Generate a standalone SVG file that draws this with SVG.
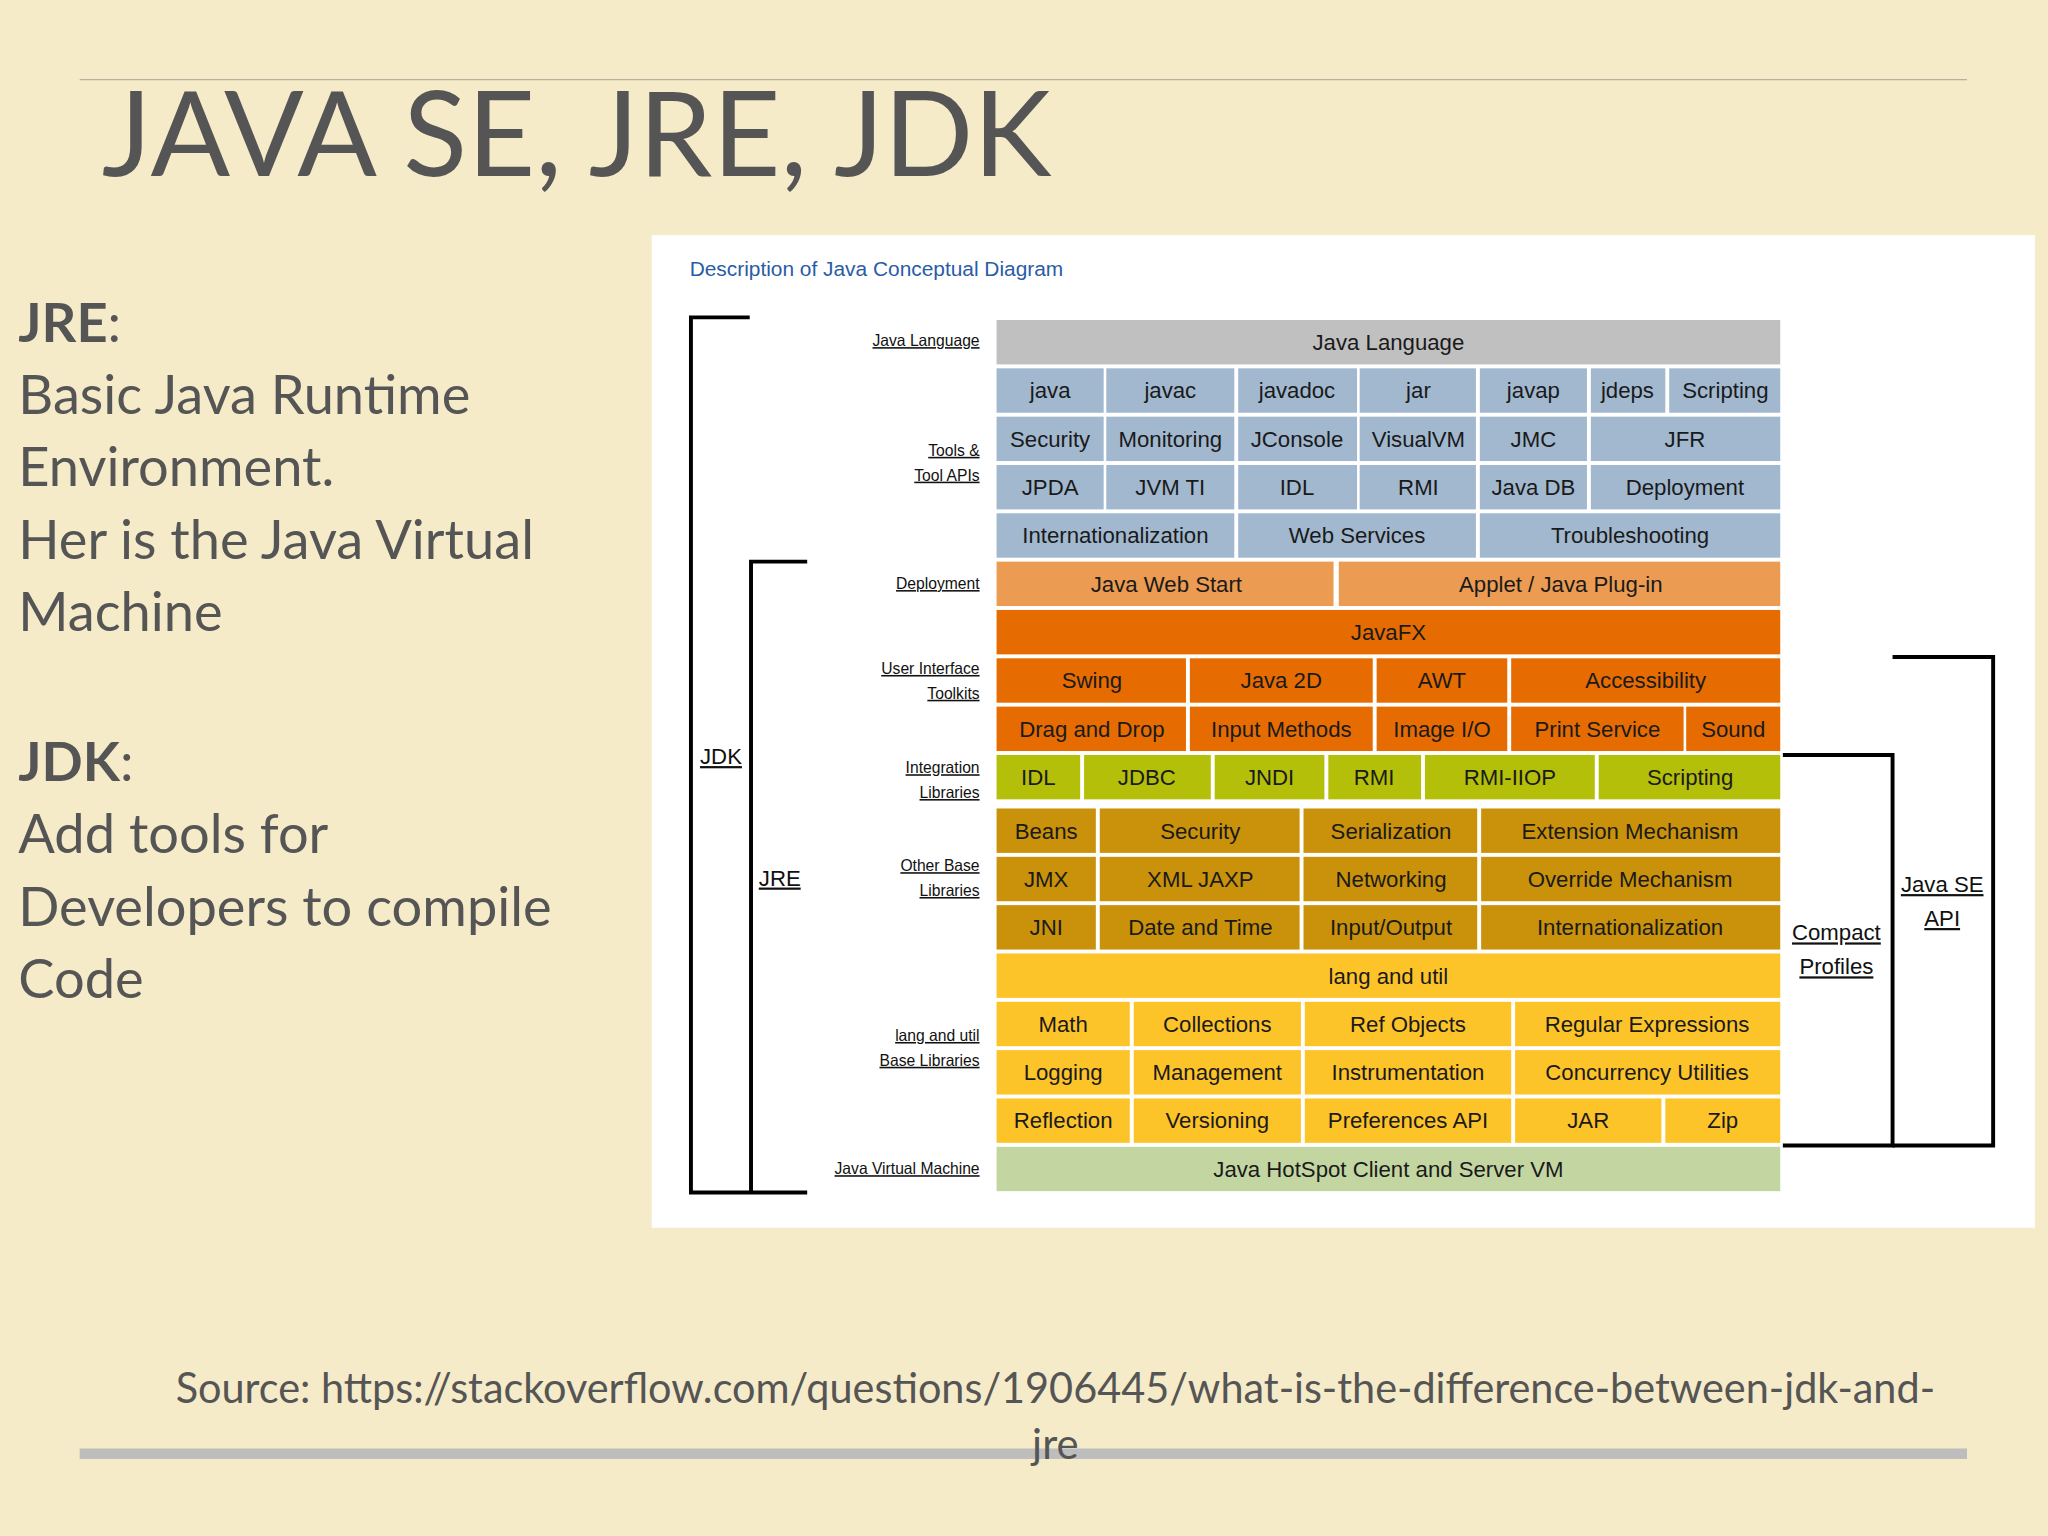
<svg xmlns="http://www.w3.org/2000/svg" width="2048" height="1536" viewBox="0 0 2048 1536">
<style>
.c{font-family:"Liberation Sans",Arial,sans-serif;font-size:17px;fill:#1a1a1a;text-anchor:middle}
.s{font-family:"Liberation Sans",Arial,sans-serif;font-size:12px;fill:#111;text-anchor:end;text-decoration:underline}
.b{font-family:"Liberation Sans",Arial,sans-serif;font-size:17px;fill:#111;text-decoration:underline;text-anchor:middle}
.l{font-family:Lato,"Open Sans",sans-serif;font-size:41.5px;fill:#555}
.br{fill:none;stroke:#000;stroke-width:3}
.g{fill:#c0c0c0}.t{fill:#a1b8cf}.d{fill:#eb9c52}.u{fill:#e66c02}.i{fill:#b4bf0a}.o{fill:#c9920a}.y{fill:#fdc42a}.v{fill:#c3d6a2}
</style>
<rect width="2048" height="1536" fill="#f5ebc9"/>
<g transform="scale(1.30612)">
<line x1="61" y1="61" x2="1506" y2="61" stroke="#b9b09a" stroke-width="1"/>
<text x="78" y="135" font-family="Lato,'Open Sans',sans-serif" font-size="90" fill="#555" textLength="727" lengthAdjust="spacingAndGlyphs">JAVA SE, JRE, JDK</text>
<g id="left-text" class="l">
<text x="14" y="262" class="l"><tspan font-weight="bold">JRE</tspan>:</text>
<text x="14" y="317" class="l">Basic Java Runtime</text>
<text x="14" y="372" class="l">Environment.</text>
<text x="14" y="428" class="l">Her is the Java Virtual</text>
<text x="14" y="483" class="l">Machine</text>
<text x="14" y="598" class="l"><tspan font-weight="bold">JDK</tspan>:</text>
<text x="14" y="653" class="l">Add tools for</text>
<text x="14" y="709" class="l">Developers to compile</text>
<text x="14" y="764" class="l">Code</text>
</g>
<rect x="61" y="1109" width="1445" height="8" fill="#bdbdbd"/>
<text x="808" y="1074" text-anchor="middle" font-family="Lato,'Open Sans',sans-serif" font-size="32" fill="#555" textLength="1347" lengthAdjust="spacingAndGlyphs">Source: https://stackoverflow.com/questions/1906445/what-is-the-difference-between-jdk-and-</text>
<text x="808" y="1117" text-anchor="middle" font-family="Lato,'Open Sans',sans-serif" font-size="32" fill="#555">jre</text>
<rect x="499" y="180" width="1059" height="760" fill="#fff"/>
<text x="528" y="211" font-family="'Liberation Sans',Arial,sans-serif" font-size="16" fill="#2a5ca6">Description of Java Conceptual Diagram</text>
<g id="side-labels">
<text x="750" y="265" class="s">Java Language</text>
<text x="750" y="349" class="s">Tools &amp;</text><text x="750" y="368" class="s">Tool APIs</text>
<text x="750" y="451" class="s">Deployment</text>
<text x="750" y="516" class="s">User Interface</text><text x="750" y="535" class="s">Toolkits</text>
<text x="750" y="592" class="s">Integration</text><text x="750" y="611" class="s">Libraries</text>
<text x="750" y="667" class="s">Other Base</text><text x="750" y="686" class="s">Libraries</text>
<text x="750" y="797" class="s">lang and util</text><text x="750" y="816" class="s">Base Libraries</text>
<text x="750" y="899" class="s">Java Virtual Machine</text>
</g>
<g id="connectors">
<path class="br" d="M574 243H529V913H618"/>
<path class="br" d="M618 430H575V913"/>
<path class="br" d="M1365 578H1449V877H1365"/>
<path class="br" d="M1449 503H1526V877H1449"/>
</g>
<g id="bracket-labels">
<text x="552" y="585" class="b">JDK</text>
<text x="597" y="678" class="b">JRE</text>
<text x="1406" y="720" class="b">Compact</text><text x="1406" y="746" class="b">Profiles</text>
<text x="1487" y="683" class="b">Java SE</text><text x="1487" y="709" class="b">API</text>
</g>
<g id="java-language"><rect class="g" x="763" y="245" width="600" height="34"/><text class="c" x="1063" y="268">Java Language</text></g>
<g id="tools">
<rect class="t" x="763" y="282" width="82" height="34"/><text class="c" x="804" y="305">java</text>
<rect class="t" x="847" y="282" width="98" height="34"/><text class="c" x="896" y="305">javac</text>
<rect class="t" x="948" y="282" width="91" height="34"/><text class="c" x="993" y="305">javadoc</text>
<rect class="t" x="1041" y="282" width="89" height="34"/><text class="c" x="1086" y="305">jar</text>
<rect class="t" x="1133" y="282" width="82" height="34"/><text class="c" x="1174" y="305">javap</text>
<rect class="t" x="1218" y="282" width="57" height="34"/><text class="c" x="1246" y="305">jdeps</text>
<rect class="t" x="1278" y="282" width="85" height="34"/><text class="c" x="1321" y="305">Scripting</text>
<rect class="t" x="763" y="319" width="82" height="34"/><text class="c" x="804" y="342">Security</text>
<rect class="t" x="847" y="319" width="98" height="34"/><text class="c" x="896" y="342">Monitoring</text>
<rect class="t" x="948" y="319" width="91" height="34"/><text class="c" x="993" y="342">JConsole</text>
<rect class="t" x="1041" y="319" width="89" height="34"/><text class="c" x="1086" y="342">VisualVM</text>
<rect class="t" x="1133" y="319" width="82" height="34"/><text class="c" x="1174" y="342">JMC</text>
<rect class="t" x="1218" y="319" width="145" height="34"/><text class="c" x="1290" y="342">JFR</text>
<rect class="t" x="763" y="356" width="82" height="34"/><text class="c" x="804" y="379">JPDA</text>
<rect class="t" x="847" y="356" width="98" height="34"/><text class="c" x="896" y="379">JVM TI</text>
<rect class="t" x="948" y="356" width="91" height="34"/><text class="c" x="993" y="379">IDL</text>
<rect class="t" x="1041" y="356" width="89" height="34"/><text class="c" x="1086" y="379">RMI</text>
<rect class="t" x="1133" y="356" width="82" height="34"/><text class="c" x="1174" y="379">Java DB</text>
<rect class="t" x="1218" y="356" width="145" height="34"/><text class="c" x="1290" y="379">Deployment</text>
<rect class="t" x="763" y="393" width="182" height="34"/><text class="c" x="854" y="416">Internationalization</text>
<rect class="t" x="948" y="393" width="182" height="34"/><text class="c" x="1039" y="416">Web Services</text>
<rect class="t" x="1133" y="393" width="230" height="34"/><text class="c" x="1248" y="416">Troubleshooting</text>
</g>
<g id="deployment">
<rect class="d" x="763" y="430" width="258" height="34"/><text class="c" x="893" y="453">Java Web Start</text>
<rect class="d" x="1025" y="430" width="338" height="34"/><text class="c" x="1195" y="453">Applet / Java Plug-in</text>
</g>
<g id="ui-toolkits">
<rect class="u" x="763" y="467" width="600" height="34"/><text class="c" x="1063" y="490">JavaFX</text>
<rect class="u" x="763" y="504" width="145" height="34"/><text class="c" x="836" y="527">Swing</text>
<rect class="u" x="911" y="504" width="140" height="34"/><text class="c" x="981" y="527">Java 2D</text>
<rect class="u" x="1054" y="504" width="100" height="34"/><text class="c" x="1104" y="527">AWT</text>
<rect class="u" x="1157" y="504" width="206" height="34"/><text class="c" x="1260" y="527">Accessibility</text>
<rect class="u" x="763" y="541" width="145" height="34"/><text class="c" x="836" y="564">Drag and Drop</text>
<rect class="u" x="911" y="541" width="140" height="34"/><text class="c" x="981" y="564">Input Methods</text>
<rect class="u" x="1054" y="541" width="100" height="34"/><text class="c" x="1104" y="564">Image I/O</text>
<rect class="u" x="1157" y="541" width="132" height="34"/><text class="c" x="1223" y="564">Print Service</text>
<rect class="u" x="1291" y="541" width="72" height="34"/><text class="c" x="1327" y="564">Sound</text>
</g>
<g id="integration">
<rect class="i" x="763" y="578" width="64" height="34"/><text class="c" x="795" y="601">IDL</text>
<rect class="i" x="830" y="578" width="97" height="34"/><text class="c" x="878" y="601">JDBC</text>
<rect class="i" x="930" y="578" width="84" height="34"/><text class="c" x="972" y="601">JNDI</text>
<rect class="i" x="1017" y="578" width="71" height="34"/><text class="c" x="1052" y="601">RMI</text>
<rect class="i" x="1091" y="578" width="130" height="34"/><text class="c" x="1156" y="601">RMI-IIOP</text>
<rect class="i" x="1224" y="578" width="139" height="34"/><text class="c" x="1294" y="601">Scripting</text>
</g>
<g id="other-base">
<rect class="o" x="763" y="619" width="76" height="34"/><text class="c" x="801" y="642">Beans</text>
<rect class="o" x="842" y="619" width="153" height="34"/><text class="c" x="919" y="642">Security</text>
<rect class="o" x="998" y="619" width="133" height="34"/><text class="c" x="1065" y="642">Serialization</text>
<rect class="o" x="1134" y="619" width="229" height="34"/><text class="c" x="1248" y="642">Extension Mechanism</text>
<rect class="o" x="763" y="656" width="76" height="34"/><text class="c" x="801" y="679">JMX</text>
<rect class="o" x="842" y="656" width="153" height="34"/><text class="c" x="919" y="679">XML JAXP</text>
<rect class="o" x="998" y="656" width="133" height="34"/><text class="c" x="1065" y="679">Networking</text>
<rect class="o" x="1134" y="656" width="229" height="34"/><text class="c" x="1248" y="679">Override Mechanism</text>
<rect class="o" x="763" y="693" width="76" height="34"/><text class="c" x="801" y="716">JNI</text>
<rect class="o" x="842" y="693" width="153" height="34"/><text class="c" x="919" y="716">Date and Time</text>
<rect class="o" x="998" y="693" width="133" height="34"/><text class="c" x="1065" y="716">Input/Output</text>
<rect class="o" x="1134" y="693" width="229" height="34"/><text class="c" x="1248" y="716">Internationalization</text>
</g>
<g id="lang-util">
<rect class="y" x="763" y="730" width="600" height="34"/><text class="c" x="1063" y="753">lang and util</text>
<rect class="y" x="763" y="767" width="102" height="34"/><text class="c" x="814" y="790">Math</text>
<rect class="y" x="868" y="767" width="128" height="34"/><text class="c" x="932" y="790">Collections</text>
<rect class="y" x="999" y="767" width="158" height="34"/><text class="c" x="1078" y="790">Ref Objects</text>
<rect class="y" x="1160" y="767" width="203" height="34"/><text class="c" x="1261" y="790">Regular Expressions</text>
<rect class="y" x="763" y="804" width="102" height="34"/><text class="c" x="814" y="827">Logging</text>
<rect class="y" x="868" y="804" width="128" height="34"/><text class="c" x="932" y="827">Management</text>
<rect class="y" x="999" y="804" width="158" height="34"/><text class="c" x="1078" y="827">Instrumentation</text>
<rect class="y" x="1160" y="804" width="203" height="34"/><text class="c" x="1261" y="827">Concurrency Utilities</text>
<rect class="y" x="763" y="841" width="102" height="34"/><text class="c" x="814" y="864">Reflection</text>
<rect class="y" x="868" y="841" width="128" height="34"/><text class="c" x="932" y="864">Versioning</text>
<rect class="y" x="999" y="841" width="158" height="34"/><text class="c" x="1078" y="864">Preferences API</text>
<rect class="y" x="1160" y="841" width="112" height="34"/><text class="c" x="1216" y="864">JAR</text>
<rect class="y" x="1275" y="841" width="88" height="34"/><text class="c" x="1319" y="864">Zip</text>
</g>
<g id="jvm"><rect class="v" x="763" y="878" width="600" height="34"/><text class="c" x="1063" y="901">Java HotSpot Client and Server VM</text></g>
</g>
</svg>
